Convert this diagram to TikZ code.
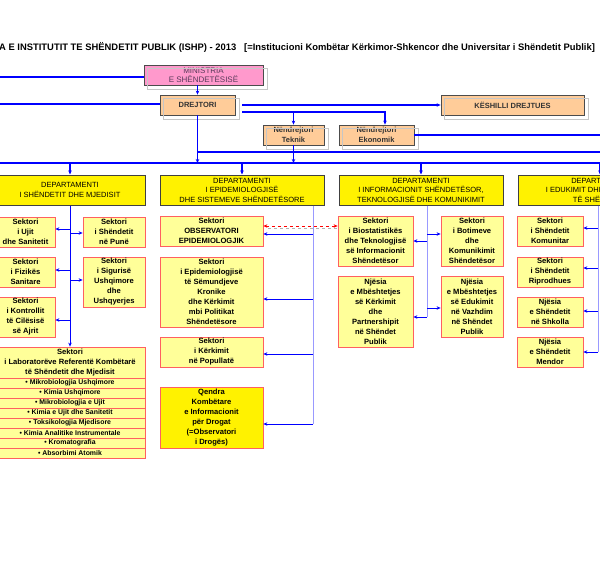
\documentclass[tikz,border=0pt]{standalone}
\usepackage{fontspec}
\setmainfont{Liberation Sans}
\usetikzlibrary{arrows.meta,calc}

\definecolor{boxorange}{HTML}{FFCC99}
\definecolor{boxpink}{HTML}{FF99CC}
\definecolor{mintext}{HTML}{5A3A5A}
\definecolor{secfill}{HTML}{FFFF99}
\definecolor{secred}{HTML}{FF6060}
\definecolor{linkblue}{HTML}{0000FF}
\definecolor{spineblue}{HTML}{9999FF}

\begin{document}
\begin{tikzpicture}[x=1pt,y=-1pt,>={Stealth[length=4pt,width=3.5pt]},
  every node/.style={align=center,inner sep=0pt},
  minbox/.style={draw=black!70,line width=0.8pt,fill=boxpink,text=mintext,
    font=\fontsize{8}{9.5}\selectfont},
  orgbox/.style={draw=black!70,line width=0.8pt,fill=boxorange,text=black!80,
    font=\bfseries\fontsize{7.5}{9.5}\selectfont},
  deptbox/.style={draw=black!75,line width=1pt,fill=yellow,minimum height=30pt,
    font=\fontsize{7.5}{9.5}\selectfont},
  sector/.style={draw=secred,line width=0.8pt,fill=secfill,
    font=\bfseries\fontsize{7.6}{10}\selectfont},
  labrow/.style={sector,minimum width=150pt,minimum height=10pt,
    font=\bfseries\fontsize{6.9}{10}\selectfont},
  ghost/.style={draw=gray!45,line width=0.8pt},
  link/.style={draw=linkblue,line width=1.2pt},
  linkarrow/.style={link,->},
  spine/.style={draw=spineblue,line width=1pt},
  branch/.style={draw=linkblue,line width=0.6pt,->},
  reddash/.style={draw=red,dashed,line width=0.5pt,
    {Stealth[length=4pt,width=3.5pt,red]}-{Stealth[length=4pt,width=3.5pt,red]}}]

  \useasboundingbox (0,0) rectangle (600,568);
  \clip (0,0) rectangle (600,568);

  \node[anchor=west,font=\bfseries\fontsize{9.4}{10}\selectfont] (title) at (-1,47)
    {A E INSTITUTIT TE SHËNDETIT PUBLIK (ISHP) - 2013\ \ \ [=Institucioni Kombëtar Kërkimor-Shkencor dhe Universitar i Shëndetit Publik]};

  % drejtimi
  \node[minbox,minimum width=119pt,minimum height=20pt] (ministria) at (203.5,75) {MINISTRIA\\E SHËNDETËSISË};
  \node[orgbox,minimum width=75pt,minimum height=20pt] (drejtori) at (197.5,105) {DREJTORI};
  \node[orgbox,minimum width=143pt,minimum height=20pt] (keshilli) at (512.5,105) {KËSHILLI DREJTUES};
  \node[orgbox,minimum width=61pt,minimum height=20pt] (teknik) at (293.5,135) {Nëndrejtori\\Teknik};
  \node[orgbox,minimum width=75pt,minimum height=20pt] (ekonomik) at (376.5,135) {Nëndrejtori\\Ekonomik};
  \foreach \n in {ministria,drejtori,keshilli,teknik,ekonomik}
    \draw[ghost] ([shift={(4,4)}]\n.north west) rectangle ([shift={(4,4)}]\n.south east);

  % departamentet
  \node[deptbox,minimum width=150pt] (dept1) at (70,190) {DEPARTAMENTI\\I SHËNDETIT DHE MJEDISIT};
  \node[deptbox,minimum width=164pt] (dept2) at (242,190) {DEPARTAMENTI\\I EPIDEMIOLOGJISË\\DHE SISTEMEVE SHËNDETËSORE};
  \node[deptbox,minimum width=164pt] (dept3) at (421,190) {DEPARTAMENTI\\I INFORMACIONIT SHËNDETËSOR,\\TEKNOLOGJISË DHE KOMUNIKIMIT};
  \node[deptbox,minimum width=164pt] (dept4) at (600,190) {DEPARTAMENTI\\I EDUKIMIT DHE PROMOVIMIT\\TË SHËNDETIT};

  % sektoret
  \node[sector,minimum width=59pt,minimum height=30pt] (ujit) at (25.5,232) {Sektori\\i Ujit\\dhe Sanitetit};
  \node[sector,minimum width=62pt,minimum height=30pt] (pune) at (114,232) {Sektori\\i Shëndetit\\në Punë};
  \node[sector,minimum width=59pt,minimum height=30pt] (fizikes) at (25.5,272) {Sektori\\i Fizikës\\Sanitare};
  \node[sector,minimum width=62pt,minimum height=50pt] (sigurise) at (114,282) {Sektori\\i Sigurisë\\Ushqimore\\dhe\\Ushqyerjes};
  \node[sector,minimum width=59pt,minimum height=40pt] (kontrollit) at (25.5,317) {Sektori\\i Kontrollit\\të Cilësisë\\së Ajrit};
  \node[sector,minimum width=150pt,minimum height=31pt] (lab) at (70,362.5) {Sektori\\i Laboratorëve Referentë Kombëtarë\\të Shëndetit dhe Mjedisit};
  \foreach \item [count=\i] in {Mikrobiologjia Ushqimore,Kimia Ushqimore,Mikrobiologjia e Ujit,
      Kimia e Ujit dhe Sanitetit,Toksikologjia Mjedisore,Kimia Analitike Instrumentale,
      Kromatografia,Absorbimi Atomik}
    \node[labrow] (lab\i) at (70,{373+10*\i}) {\textbullet\ \item};

  \node[sector,minimum width=103pt,minimum height=30pt] (observatori) at (211.5,231) {Sektori\\OBSERVATORI\\EPIDEMIOLOGJIK};
  \node[sector,minimum width=103pt,minimum height=70pt] (kronike) at (211.5,292) {Sektori\\i Epidemiologjisë\\të Sëmundjeve\\Kronike\\dhe Kërkimit\\mbi Politikat\\Shëndetësore};
  \node[sector,minimum width=103pt,minimum height=30pt] (popullate) at (211.5,352) {Sektori\\i Kërkimit\\në Popullatë};
  \node[sector,fill=yellow,minimum width=103pt,minimum height=61pt] (drogat) at (211.5,417.5) {Qendra\\Kombëtare\\e Informacionit\\për Drogat\\(=Observatori\\i Drogës)};

  \node[sector,minimum width=75pt,minimum height=50pt] (biostat) at (375.5,241) {Sektori\\i Biostatistikës\\dhe Teknologjisë\\së Informacionit\\Shëndetësor};
  \node[sector,minimum width=62pt,minimum height=50pt] (botimeve) at (472,241) {Sektori\\i Botimeve\\dhe\\Komunikimit\\Shëndetësor};
  \node[sector,minimum width=75pt,minimum height=71pt] (njkerkimit) at (375.5,311.5) {Njësia\\e Mbështetjes\\së Kërkimit\\dhe\\Partnershipit\\në Shëndet\\Publik};
  \node[sector,minimum width=62pt,minimum height=61pt] (njedukimit) at (472,306.5) {Njësia\\e Mbështetjes\\së Edukimit\\në Vazhdim\\në Shëndet\\Publik};

  \node[sector,minimum width=66pt,minimum height=30pt] (komunitar) at (550,231) {Sektori\\i Shëndetit\\Komunitar};
  \node[sector,minimum width=66pt,minimum height=30pt] (riprodhues) at (550,272) {Sektori\\i Shëndetit\\Riprodhues};
  \node[sector,minimum width=66pt,minimum height=30pt] (shkolla) at (550,312) {Njësia\\e Shëndetit\\në Shkolla};
  \node[sector,minimum width=66pt,minimum height=30pt] (mendor) at (550,352) {Njësia\\e Shëndetit\\Mendor};

  % lidhjet
  \coordinate (mleft) at (0,77);
  \coordinate (dleft) at (0,104);
  \coordinate (split) at (242,112);
  \coordinate (ekR) at (600,0);
  \coordinate (busL) at (0,163);
  \coordinate (busR) at (600,163);
  \coordinate (bus2R) at (600,152);
  \draw[link] (mleft) -- (mleft -| ministria.west);
  \draw[linkarrow] (ministria.south -| drejtori.north) -- (drejtori.north);
  \draw[link] (dleft) -- (dleft -| drejtori.west);
  \draw[linkarrow] (drejtori.east -| split) -- (keshilli.west);
  \draw[linkarrow] (split) -| (teknik.north);
  \draw[linkarrow] (split) -| ($(ekonomik.north)+(8.5,0)$);
  \draw[link] (ekonomik.east) -- (ekonomik.east -| ekR);
  \draw[link] (drejtori.south |- bus2R) -- (bus2R);
  \draw[link] (busL) -- (busR);
  \draw[linkarrow] (drejtori.south) -- (drejtori.south |- busL);
  \draw[linkarrow] (teknik.south) -- (teknik.south |- busL);
  \foreach \d in {dept1,dept2,dept3,dept4}
    \draw[linkarrow] (\d.north |- busL) -- (\d.north);

  \draw[link,line width=0.8pt,->] (dept1.south) -- (lab.north);
  \foreach \s/\dy in {ujit/-3,fizikes/-2,kontrollit/3}
    \draw[branch] ($(dept1.south |- \s.east)+(0,\dy)$) -- ($(\s.east)+(0,\dy)$);
  \foreach \s/\dy in {pune/1,sigurise/-2}
    \draw[branch] ($(dept1.south |- \s.west)+(0,\dy)$) -- ($(\s.west)+(0,\dy)$);

  \coordinate (sp2) at (313,0);
  \draw[spine] (sp2 |- dept2.south) -- ($(sp2 |- drogat.east)+(0,6.5)$);
  \foreach \s/\dy in {observatori/3,kronike/7,popullate/2,drogat/6.5}
    \draw[branch] ($(sp2 |- \s.east)+(0,\dy)$) -- ($(\s.east)+(0,\dy)$);

  \coordinate (sp3) at (427,0);
  \draw[spine] (sp3 |- dept3.south) -- ($(sp3 |- njkerkimit.east)+(0,5.5)$);
  \foreach \s/\dy in {biostat/0,njkerkimit/5.5}
    \draw[branch] ($(sp3 |- \s.east)+(0,\dy)$) -- ($(\s.east)+(0,\dy)$);
  \foreach \s/\dy in {botimeve/-7,njedukimit/1.5}
    \draw[branch] ($(sp3 |- \s.west)+(0,\dy)$) -- ($(\s.west)+(0,\dy)$);

  \coordinate (sp4) at (598,0);
  \draw[spine] (sp4 |- dept4.south) -- (sp4 |- mendor.east);
  \foreach \s/\dy in {komunitar/-3,riprodhues/-4,shkolla/-1,mendor/0}
    \draw[branch] ($(sp4 |- \s.east)+(0,\dy)$) -- ($(\s.east)+(0,\dy)$);

  \draw[dashed,gray!60,line width=0.5pt] ($(observatori.east)+(5,-3)$) -- ($(biostat.west |- observatori.east)+(0,-3)$);
  \draw[reddash] ($(observatori.east)+(0,-5)$) -- ($(biostat.west |- observatori.east)+(0,-5)$);
\end{tikzpicture}
\end{document}
